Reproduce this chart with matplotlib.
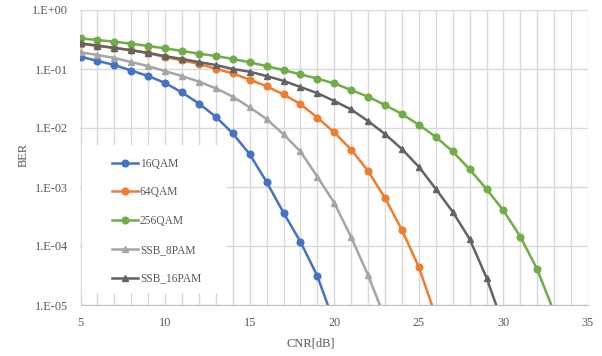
import matplotlib
matplotlib.use("Agg")
import matplotlib.pyplot as plt
import numpy as np
from matplotlib.patches import Rectangle
from matplotlib.ticker import FixedLocator, MultipleLocator

plt.rcParams['font.family'] = ['Liberation Serif', 'DejaVu Serif']

# BER vs CNR[dB]
cnr_16qam = list(range(5, 21))
ber_16qam = [0.162, 0.137, 0.117, 0.094, 0.076, 0.058, 0.040, 0.026, 0.0155,
             0.0081, 0.0036, 0.00122, 0.000367, 0.000118, 3.1e-5, 5e-6]

cnr_64qam = list(range(5, 27))
ber_64qam = [0.268, 0.245, 0.228, 0.208, 0.185, 0.16, 0.14, 0.122, 0.101, 0.084,
             0.066, 0.051, 0.037, 0.0255, 0.015, 0.0084, 0.0043, 0.00187,
             0.00065, 0.000187, 4.4e-5, 6.5e-6]

cnr_256qam = list(range(5, 34))
ber_256qam = [0.33, 0.31, 0.29, 0.269, 0.245, 0.224, 0.202, 0.182, 0.166, 0.148,
              0.13, 0.112, 0.096, 0.081, 0.069, 0.057, 0.044, 0.034, 0.0245,
              0.0173, 0.0113, 0.0071, 0.0040, 0.0020, 0.00092, 0.0004,
              0.000144, 4.0e-5, 7.5e-6]

cnr_8pam = list(range(5, 24))
ber_8pam = [0.192, 0.173, 0.154, 0.131, 0.112, 0.092, 0.076, 0.061, 0.047,
            0.034, 0.0224, 0.0142, 0.0078, 0.0040, 0.0015, 0.00054, 0.000141,
            3.2e-5, 6e-6]

cnr_16pam = list(range(5, 31))
ber_16pam = [0.272, 0.25, 0.228, 0.208, 0.188, 0.165, 0.148, 0.131, 0.117, 0.1,
             0.09, 0.076, 0.063, 0.0495, 0.039, 0.0287, 0.0206, 0.0131,
             0.0079, 0.0044, 0.0022, 0.00093, 0.00038, 0.000132, 2.9e-5, 4.5e-6]

labels = ['16QAM', '64QAM', '256QAM', 'SSB_8PAM', 'SSB_16PAM']
colors = ['#4472C4', '#ED7D31', '#70AD47', '#A5A5A5', '#636363']

fig = plt.figure(figsize=(6.02, 3.56), dpi=100)
ax = fig.add_axes([80.5 / 602, 1 - 305 / 356, 507.5 / 602, 295 / 356])

series = [(cnr_16qam, ber_16qam, 'o'), (cnr_64qam, ber_64qam, 'o'),
          (cnr_256qam, ber_256qam, 'o'), (cnr_8pam, ber_8pam, '^'),
          (cnr_16pam, ber_16pam, '^')]
for (x, y, m), lab, c in zip(series, labels, colors):
    ax.plot(x, y, marker=m, color=c, lw=1.8, ms=4.8, label=lab, zorder=3)

ax.set_yscale('log')
ax.set_xlim(5, 35)
ax.set_ylim(1e-5, 1)
xt = [5, 10, 15, 20, 25, 30, 35]
ax.xaxis.set_major_locator(FixedLocator(xt))
ax.xaxis.set_minor_locator(MultipleLocator(1))
ax.set_xticklabels([str(v) for v in xt])
yt = [1e0, 1e-1, 1e-2, 1e-3, 1e-4, 1e-5]
ax.yaxis.set_major_locator(FixedLocator(yt))
ax.yaxis.set_minor_locator(FixedLocator([]))
ax.set_yticklabels(['1.E+00', '1.E-01', '1.E-02', '1.E-03', '1.E-04', '1.E-05'])

ax.set_axisbelow(True)
ax.grid(True, which='both', color='#d9d9d9', lw=1.0)
for s in ['left', 'top', 'right']:
    ax.spines[s].set_visible(False)
ax.spines['bottom'].set_color('#bfbfbf')
ax.tick_params(which='both', length=0, labelsize=8.8, colors='#595959', pad=9)

# white box behind the legend hides the grid
ax.add_patch(Rectangle((0.002, 12 / 295), 144 / 507.5, 148 / 295,
                       transform=ax.transAxes, facecolor='white',
                       edgecolor='none', zorder=1))
ax.legend(loc='upper left', bbox_to_anchor=(26 / 507.5, 153 / 295),
          frameon=False, fontsize=8.3, labelspacing=1.45, handlelength=2.2,
          handletextpad=0.2, borderpad=0, labelcolor='#595959')

fig.text(311 / 602, 1 - 343 / 356, 'CNR[dB]', ha='center', va='center',
         fontsize=9, color='#595959')
fig.text(24 / 602, 1 - 155 / 356, 'BER', ha='center', va='center',
         rotation=90, fontsize=9, color='#595959')

fig.savefig('out.png', dpi=100)
